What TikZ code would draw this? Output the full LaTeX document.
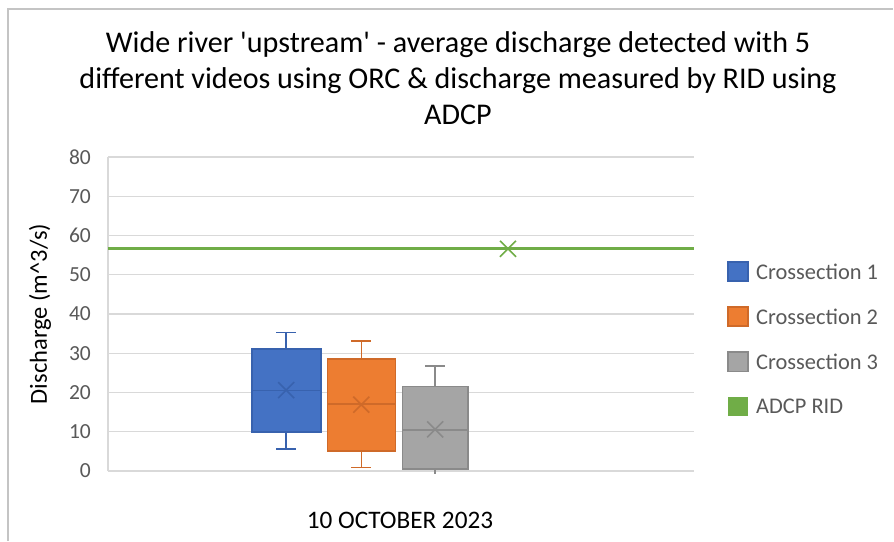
\documentclass[tikz,border=0pt]{standalone}
\usepackage{fontspec}
\setmainfont{Carlito}
\definecolor{cblue}{HTML}{4472C4}
\definecolor{cblueD}{HTML}{3862AE}
\definecolor{corange}{HTML}{ED7D31}
\definecolor{corangeD}{HTML}{CF6A29}
\definecolor{cgray}{HTML}{A5A5A5}
\definecolor{cgrayD}{HTML}{8A8A8A}
\definecolor{cgreen}{HTML}{70AD47}
\definecolor{cgrid}{HTML}{D9D9D9}
\definecolor{ctext}{HTML}{595959}
\definecolor{cframe}{HTML}{C4C4C4}
\tikzset{
  gridline/.style={draw=cgrid, line width=1.4pt},
  framel/.style={draw=cframe, line width=1.3pt},
  boxs/.style={line width=1.6pt},
  whisk/.style={line width=1.5pt},
  ticklab/.style={anchor=east, inner sep=0pt, text=ctext, font=\fontsize{21.5}{25}\selectfont},
  legtext/.style={anchor=west, inner sep=0pt, text=ctext, font=\fontsize{22.4}{26}\selectfont},
  titletext/.style={anchor=base, inner sep=0pt, text=black, font=\fontsize{30.1}{36}\selectfont},
  axtitle/.style={inner sep=0pt, text=black, font=\fontsize{24.5}{28}\selectfont},
  xmark/.pic={\draw[pic actions] (-8pt,-8pt) -- (8pt,8pt) (-8pt,8pt) -- (8pt,-8pt);}
}
\begin{document}
\begin{tikzpicture}[x=1pt, y=-1pt]
\useasboundingbox (0,0) rectangle (894,541);
\fill[white] (0,0) rectangle (894,541);
% frame
\draw[framel] (8,541) -- (8,9) -- (893,9);
% title
\node[titletext] (title1) at (458,52) {Wide river \textquotesingle upstream\textquotesingle{} - average discharge detected with 5};
\node[titletext] (title2) at (458,88) {different videos using ORC \& discharge measured by RID using};
\node[titletext] (title3) at (458,124) {ADCP};
% axis titles
\node[axtitle, rotate=90] (ytitle) at (40,314) {Discharge (m\textasciicircum 3/s)};
\node[axtitle, anchor=base, font=\fontsize{25.2}{28}\selectfont] (xtitle) at (400,528) {10 OCTOBER 2023};
% plot
\begin{scope}[shift={(0,471)}, y=3.925pt]
  \foreach \v in {0,10,...,80} {
    \draw[gridline] (108,\v) -- (694,\v);
    \node[ticklab] (tick\v) at (91,\v) {\v};
  }
  \draw[gridline] (108,0) -- (108,80);
  % green ADCP line
  \draw[draw=cgreen, line width=3pt] (108,56.6) -- (694,56.6);
  \pic[draw=cgreen, line width=1.6pt] at (508,56.6) {xmark};
  % Crossection 1
  \draw[whisk, cblueD] (286.2,31.1) -- (286.2,35.3) (276.2,35.3) -- (296.2,35.3);
  \draw[whisk, cblueD] (286.2,10.0) -- (286.2,5.6) (276.2,5.6) -- (296.2,5.6);
  \draw[boxs, fill=cblue, draw=cblueD] (251.7,10.0) rectangle (320.7,31.1);
  \draw[boxs, cblueD] (251.7,20.5) -- (320.7,20.5);
  \pic[draw=cblueD, line width=1.6pt] at (286.2,20.6) {xmark};
  % Crossection 2
  \draw[whisk, corangeD] (361.3,28.5) -- (361.3,33.1) (351.3,33.1) -- (371.3,33.1);
  \draw[whisk, corangeD] (361.3,5.1) -- (361.3,0.94) (351.3,0.94) -- (371.3,0.94);
  \draw[boxs, fill=corange, draw=corangeD] (327.3,5.1) rectangle (395.3,28.5);
  \draw[boxs, corangeD] (327.3,17.0) -- (395.3,17.0);
  \pic[draw=corangeD, line width=1.6pt] at (361.3,16.9) {xmark};
  % Crossection 3
  \draw[whisk, cgrayD] (435.2,21.5) -- (435.2,26.75) (425.2,26.75) -- (445.2,26.75);
  \draw[whisk, cgrayD] (435.2,0.5) -- (435.2,-0.8);
  \draw[boxs, fill=cgray, draw=cgrayD] (402.3,0.5) rectangle (468,21.5);
  \draw[boxs, cgrayD] (402.3,10.4) -- (468,10.4);
  \pic[draw=cgrayD, line width=1.6pt] at (435.2,10.6) {xmark};
\end{scope}
% legend
\draw[line width=1.2pt, fill=cblue, draw=cblueD] (728,262) rectangle (748,281);
\node[legtext] (leg1) at (756,271.5) {Crossection 1};
\draw[line width=1.2pt, fill=corange, draw=corangeD] (728,307) rectangle (748,326);
\node[legtext] (leg2) at (756,316.5) {Crossection 2};
\draw[line width=1.2pt, fill=cgray, draw=cgrayD] (728,352) rectangle (748,371.5);
\node[legtext] (leg3) at (756,361.8) {Crossection 3};
\fill[cgreen] (728,396.5) rectangle (748,415.5);
\node[legtext] (leg4) at (756,406) {ADCP RID};
\end{tikzpicture}
\end{document}
